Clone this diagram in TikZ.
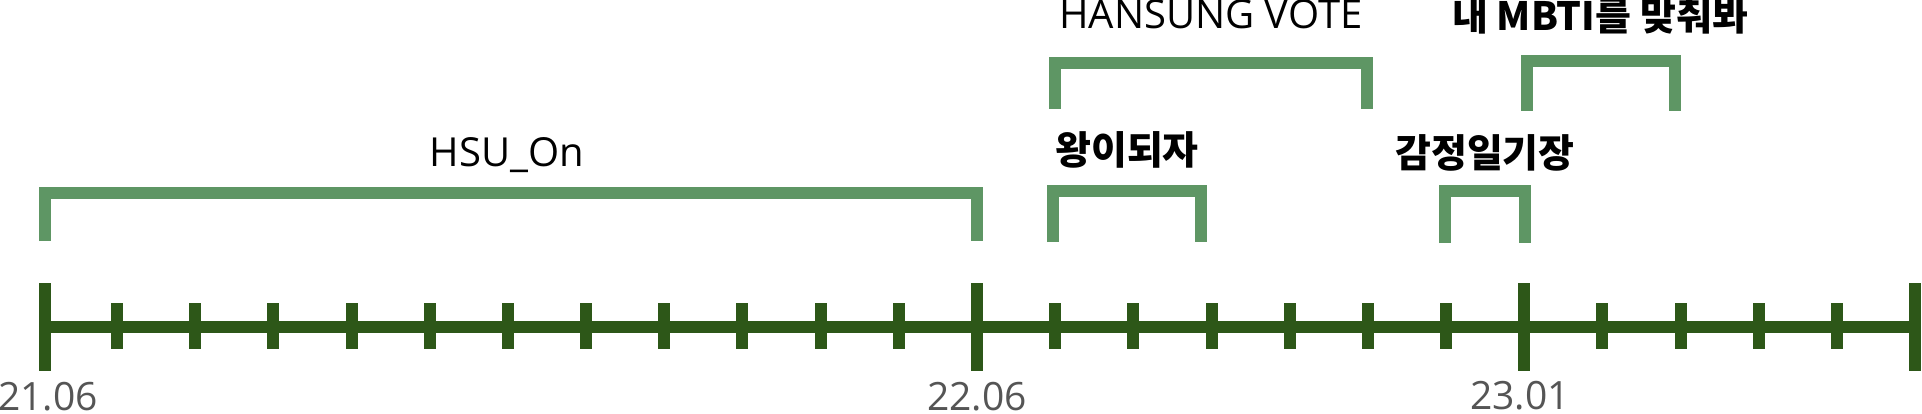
\documentclass[tikz,border=0pt]{standalone}
\usepackage{fontspec}
\setmainfont{Open Sans}
\newfontfamily\kr{Noto Sans CJK KR}
\definecolor{brkc}{HTML}{5E9664}
\definecolor{axisc}{HTML}{2D5718}
\definecolor{lblc}{HTML}{555555}
\begin{document}
\begin{tikzpicture}[x=1pt,y=-1pt,
  bracket/.style={draw=brkc,line width=12pt,line join=miter,line cap=butt},
  axisline/.style={draw=axisc,line width=12pt,line cap=butt},
  bigtick/.style={draw=axisc,line width=12pt,line cap=butt},
  smalltick/.style={draw=axisc,line width=12pt,line cap=butt},
  datelbl/.style={anchor=base,inner sep=0pt,text=lblc,font=\fontsize{39}{39}\selectfont},
  latinlbl/.style={anchor=base,inner sep=0pt,text=black,font=\fontsize{40}{40}\selectfont},
  krlbl/.style={anchor=base,inner sep=0pt,text=black,font=\kr\bfseries\fontsize{39}{39}\selectfont}]
\useasboundingbox (0,0) rectangle (1922,414);
% main axis
\coordinate (axL) at (39,327);
\coordinate (axR) at (1921,327);
\draw[axisline] (axL) -- (axR);
% small ticks
\foreach \i in {1,...,11,13,14,15,16,17,18,20,21,22,23}{
  \draw[smalltick] ({38.82+78.18*\i},303) -- ({38.82+78.18*\i},349);
}
% big ticks
\foreach \x in {45,977,1524,1915}{
  \draw[bigtick] (\x,283) -- (\x,371);
}
% brackets
\draw[bracket] (45,241) |- (977,193) -- (977,241);
\draw[bracket] (1053,242) |- (1201,191) -- (1201,242);
\draw[bracket] (1055,109) |- (1367,63) -- (1367,109);
\draw[bracket] (1445,243) |- (1525,191) -- (1525,243);
\draw[bracket] (1527,111) |- (1675,61) -- (1675,111);
% labels
\node[latinlbl] (hsu) at (507,167) {HSU\_On};
\node[latinlbl] (vote) at (1211,29) {HANSUNG VOTE};
\node[krlbl] (king) at (1127,165) {왕이되자};
\node[krlbl] (diary) at (1485,168) {감정일기장};
\node[krlbl] (mbti) at (1600,31) {내 MBTI를 맞춰봐};
% dates
\node[datelbl] (d1) at (48,410) {21.06};
\node[datelbl] (d2) at (977,410) {22.06};
\node[datelbl] (d3) at (1520,409) {23.01};
\end{tikzpicture}
\end{document}
